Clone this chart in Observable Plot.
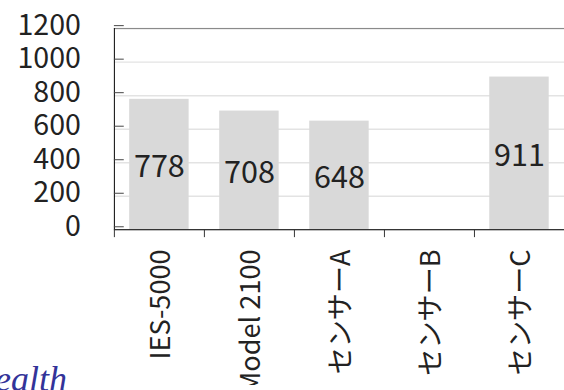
<!DOCTYPE html>
<html><head><meta charset="utf-8">
<script src="https://cdn.jsdelivr.net/npm/d3@7"></script>
<script src="https://cdn.jsdelivr.net/npm/@observablehq/plot@0.6"></script>
<style>
html,body{margin:0;padding:0;overflow:hidden;background:#fff;width:564px;height:390px;}
#chart{position:absolute;left:0;top:0;}
#caption{position:absolute;left:-31px;top:357px;font-family:"Liberation Serif",serif;font-style:italic;font-size:36px;line-height:44px;color:#333399;white-space:nowrap;}
</style></head><body>
<div id="chart"></div>
<div id="caption">Health</div>
<script>
const categories = ["IES-5000", "Model 2100", "センサーA", "センサーB", "センサーC"];
const values = [778, 708, 648, null, 911];
const yTicks = [0, 200, 400, 600, 800, 1000, 1200];

const data = categories.map((name, i) => ({name, i, value: values[i]}));
const bars = data.filter(d => d.value != null);
const bandStarts = categories.map((_, i) => i);
const bandCenters = categories.map((_, i) => i + 0.5);

const chart = Plot.plot({
  width: 572,
  height: 390,
  marginLeft: 115.5,
  marginRight: 0,
  marginTop: 28.5,
  marginBottom: 157.5,
  style: {fontFamily: "'Noto Sans CJK JP', sans-serif", color: "#222", background: "#fff"},
  x: {type: "linear", domain: [0, categories.length]},
  y: {domain: [0, 1200], label: null},
  marks: [
    Plot.gridY(yTicks, {stroke: "#e3e3e3", strokeOpacity: 1, strokeWidth: 1.5}),
    Plot.rectY(bars, {x1: d => d.i, x2: d => d.i + 1, y: "value", fill: "#d9d9d9", insetLeft: 15.5, insetRight: 15.5}),
    Plot.frame({anchor: "top", stroke: "#808080"}),
    Plot.ruleY([0], {stroke: "#000"}),
    Plot.ruleX([0], {stroke: "#000"}),
    Plot.axisY({ticks: yTicks, tickFormat: d => String(d), label: null, tickSize: -10, tickPadding: 44, fontSize: 29, dy: -3, stroke: "#444", strokeOpacity: 1}),
    Plot.axisX({ticks: bandStarts, tickSize: 8, tickFormat: () => "", label: null, stroke: "#333", strokeOpacity: 1}),
    Plot.axisX({ticks: bandCenters, tickFormat: v => categories[Math.floor(v)], label: null, tickRotate: -90, tickSize: 0, tickPadding: 20, fontSize: 27.5, dx: 2}),
    Plot.text(bars, {x: d => d.i + 0.5, y: d => d.value / 2, text: d => String(d.value), fontSize: 31, dy: 3, fill: "#222"})
  ]
});
document.getElementById("chart").appendChild(chart);
</script>
</body></html>
